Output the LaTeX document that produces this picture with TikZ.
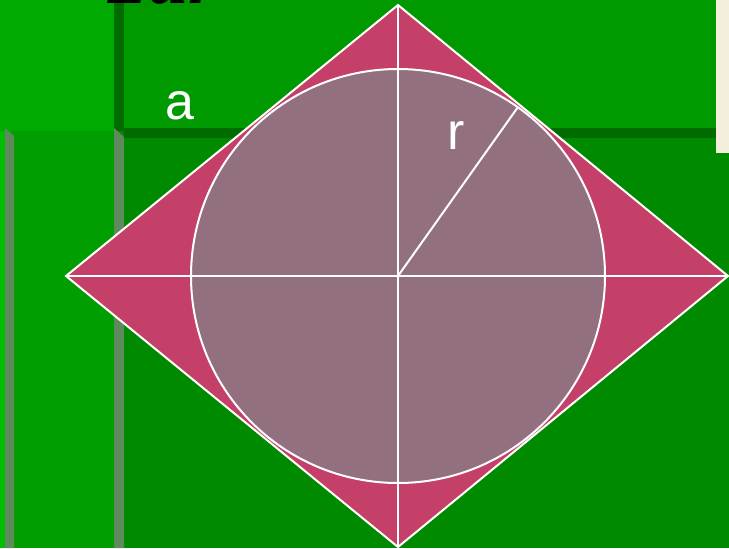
\documentclass[tikz,border=0pt]{standalone}
\usepackage{fontspec}
\setmainfont{Liberation Sans}
\newfontfamily\formulafont{Liberation Serif}
\usetikzlibrary{positioning}

\definecolor{bgdeep}{HTML}{008A00}
\definecolor{bgtop}{HTML}{009900}
\definecolor{bgleft}{HTML}{009E00}
\definecolor{bglight}{HTML}{00AA00}
\definecolor{bgedge}{HTML}{00BE00}
\definecolor{bgdark}{HTML}{006C00}
\definecolor{bgshade}{HTML}{5E8A5E}
\definecolor{bgpaper}{HTML}{F4EEDC}
\definecolor{rhombfill}{HTML}{C44068}
\definecolor{circfill}{HTML}{937080}

\tikzset{
  figline/.style={draw=white,line width=1pt},
  lbl/.style={text=white,inner sep=0pt,font=\fontsize{26}{30}\selectfont}
}

\begin{document}
\begin{tikzpicture}[x=0.5pt,y=-0.5pt]
\useasboundingbox (0,0) rectangle (729,548);

% background panels
\fill[bgdeep] (0,0) rectangle (729,548);
\fill[bgtop] (124,0) rectangle (716,128);
\fill[bgdark] (124,128) rectangle (716,138);
\fill[bgleft] (0,0) rectangle (114,548);
\fill[bglight] (0,0) rectangle (114,131);
\fill[bgedge] (0,131) rectangle (5,548);
\fill[bgshade] (5,128) -- (14,136) -- (14,548) -- (5,548) -- cycle;
\fill[bgdark] (114,0) rectangle (124,131);
\fill[bgshade] (114,128) -- (124,137) -- (124,548) -- (114,548) -- cycle;
\fill[bgpaper] (716,0) rectangle (729,153);

\node[anchor=base west,inner sep=0pt,text=black,
  font=\formulafont\bfseries\itshape\fontsize{40}{44}\selectfont] (formula) at (108,3) {2ar};

% rhombus and circle
\coordinate (top) at (398,5);
\coordinate (right) at (728,276);
\coordinate (bottom) at (398,547);
\coordinate (left) at (66,276);
\coordinate (O) at (398,276);
\coordinate (R) at (518,107);

\filldraw[figline,fill=rhombfill] (top) -- (right) -- (bottom) -- (left) -- cycle;
\filldraw[figline,fill=circfill] (O) circle[radius=207];

\draw[figline] (top) edge (bottom);
\draw[figline] (left) edge (right);
\draw[figline] (O) edge (R);

\node[lbl] (a) at (180,106) {a};
\node[lbl] (r) at (456,136) {r};

\end{tikzpicture}
\end{document}
